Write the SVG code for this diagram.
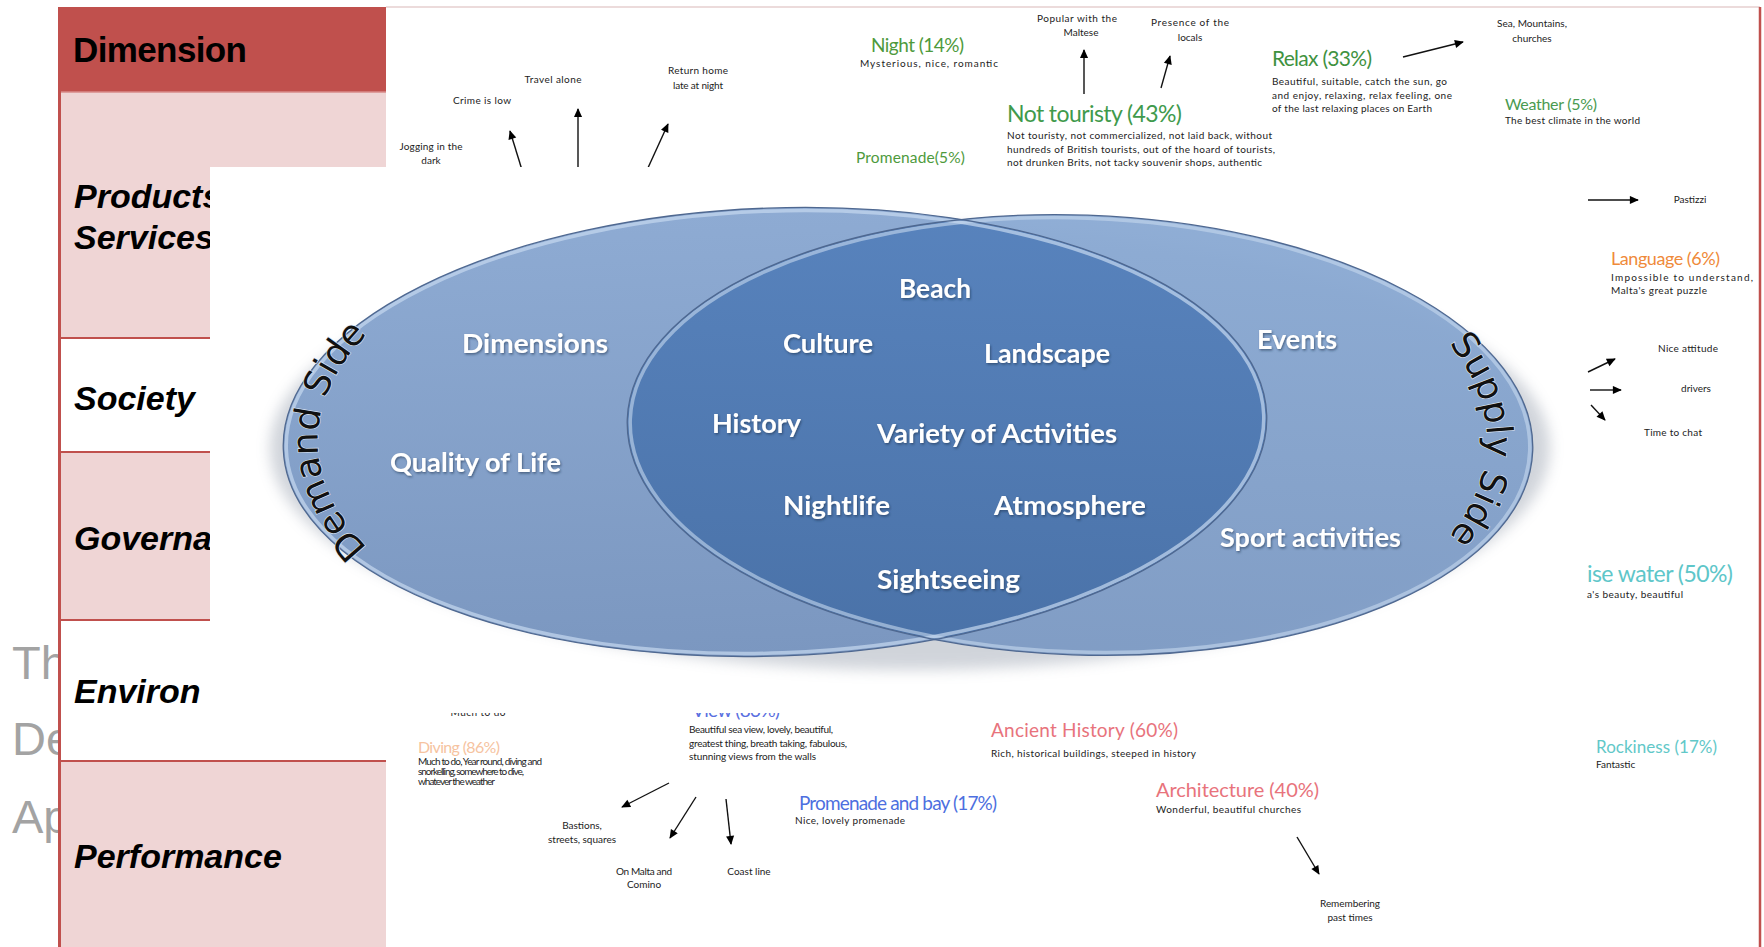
<svg xmlns="http://www.w3.org/2000/svg" width="1764" height="947" viewBox="0 0 1764 947">
<style>
.s{font-family:Lato,"Liberation Sans",sans-serif;font-size:10px;fill:#222}
.c{text-anchor:middle}
.t{font-family:Lato,"Liberation Sans",sans-serif;font-weight:400}
.v{font-family:Lato,"Liberation Sans",sans-serif;font-weight:700;font-size:26px;fill:#fff}
.row{font-family:"Liberation Sans",Arial,sans-serif;font-weight:700;font-style:italic;font-size:34px;fill:#000}
.gray{font-family:"Liberation Sans",Arial,sans-serif;font-size:47px;fill:#a3a3a3}
.arr{stroke:#111;stroke-width:1.4;fill:none;marker-end:url(#ah)}
.side{font-family:"DejaVu Sans","Liberation Sans",sans-serif;font-size:36px;fill:#111;stroke:#dfe9f6;stroke-width:1.2;paint-order:stroke}
</style>
<defs>
<marker id="ah" viewBox="0 0 10 10" refX="9" refY="5" markerWidth="10" markerHeight="9" markerUnits="userSpaceOnUse" orient="auto"><path d="M0,0.5 L10,5 L0,9.5 z" fill="#000"/></marker>
<linearGradient id="gL" x1="0" y1="0" x2="0" y2="1"><stop offset="0" stop-color="#8eabd3"/><stop offset="1" stop-color="#7b97c0"/></linearGradient>
<linearGradient id="gR" x1="0" y1="0" x2="0" y2="1"><stop offset="0" stop-color="#8cabd4"/><stop offset="1" stop-color="#7e9bc4"/></linearGradient>
<linearGradient id="gM" x1="0" y1="0" x2="0" y2="1"><stop offset="0" stop-color="#5883bd"/><stop offset="1" stop-color="#4a72a8"/></linearGradient>
<clipPath id="cE1"><ellipse cx="775" cy="432" rx="492" ry="224" transform="rotate(-2 775 432)"/></clipPath>
<filter id="sh" x="-10%" y="-10%" width="120%" height="130%"><feGaussianBlur stdDeviation="7"/></filter>
<filter id="ts" x="-5%" y="-20%" width="110%" height="140%"><feDropShadow dx="1" dy="1.5" stdDeviation="1" flood-color="#1d3050" flood-opacity="0.6"/></filter>
<path id="pDemand" d="M450.8,607.3 A458,236 0 0 1 450.8,274.7" fill="none"/>
<path id="pSupply" d="M1366.3,277.4 A412,230 0 0 1 1366.3,602.6" fill="none"/>
</defs>
<rect x="0" y="0" width="1764" height="947" fill="#fff"/>

<g id="bg-title">
<text class="gray" x="12" y="679">Th</text>
<text class="gray" x="12" y="755">De</text>
<text class="gray" x="12" y="833">Ap</text>
</g>

<g id="frame">
<line x1="386" y1="7" x2="1760" y2="7" stroke="#e6cfcf" stroke-width="1.5"/>
<line x1="1760" y1="7" x2="1760" y2="947" stroke="#c0504d" stroke-width="2.5"/>
</g>

<g id="connectors">
<line class="arr" x1="522" y1="170" x2="510" y2="131"/>
<line class="arr" x1="578" y1="170" x2="578" y2="109"/>
<line class="arr" x1="647" y1="170" x2="668" y2="124"/>
<line class="arr" x1="1084" y1="94" x2="1084" y2="50"/>
<line class="arr" x1="1161" y1="88" x2="1170" y2="56"/>
<line class="arr" x1="1403" y1="57" x2="1463" y2="42"/>
<line class="arr" x1="1588" y1="200" x2="1638" y2="200"/>
<line class="arr" x1="1588" y1="372" x2="1615" y2="359"/>
<line class="arr" x1="1590" y1="390" x2="1621" y2="390"/>
<line class="arr" x1="1591" y1="405" x2="1605" y2="420"/>
<line class="arr" x1="669" y1="783" x2="622" y2="807"/>
<line class="arr" x1="696" y1="797" x2="670" y2="838"/>
<line class="arr" x1="726" y1="799" x2="731" y2="844"/>
<line class="arr" x1="1297" y1="837" x2="1319" y2="874"/>
</g>

<g id="n-crime"><text class="s c" x="482" y="104" textLength="58">Crime is low</text></g>
<g id="n-travel"><text class="s c" x="553" y="83" textLength="57">Travel alone</text></g>
<g id="n-return"><text class="s c" x="698" y="74" textLength="60">Return home</text><text class="s c" x="698" y="89" textLength="50">late at night</text></g>
<g id="n-jogging"><text class="s c" x="431" y="150" textLength="63">Jogging in the</text><text class="s c" x="431" y="164">dark</text></g>

<g id="n-night"><text class="t" x="871" y="52" font-size="19" fill="#4e9a3c" textLength="93">Night (14%)</text><text class="s" x="860" y="67" textLength="138">Mysterious, nice, romantic</text></g>
<g id="n-promenade5"><text class="t" x="856" y="163" font-size="15.5" fill="#4e9a3c" textLength="109">Promenade(5%)</text></g>
<g id="n-popular"><text class="s c" x="1077" y="22" textLength="80">Popular with the</text><text class="s c" x="1081" y="36">Maltese</text></g>
<g id="n-presence"><text class="s c" x="1190" y="26" textLength="78">Presence of the</text><text class="s c" x="1190" y="41">locals</text></g>
<g id="n-nottouristy"><text class="t" x="1007" y="122" font-size="23" fill="#3f9a4c" textLength="175">Not touristy (43%)</text>
<text class="s" x="1007" y="139" textLength="265">Not touristy, not commercialized, not laid back, without</text>
<text class="s" x="1007" y="153" textLength="268">hundreds of British tourists, out of the hoard of tourists,</text>
<text class="s" x="1007" y="166" textLength="255">not drunken Brits, not tacky souvenir shops, authentic</text></g>
<g id="n-relax"><text class="t" x="1272" y="66" font-size="21" fill="#3f923f" textLength="100">Relax (33%)</text>
<text class="s" x="1272" y="85" textLength="175">Beautiful, suitable, catch the sun, go</text>
<text class="s" x="1272" y="99" textLength="180">and enjoy, relaxing, relax feeling, one</text>
<text class="s" x="1272" y="112" textLength="160">of the last relaxing places on Earth</text></g>
<g id="n-sea"><text class="s c" x="1532" y="27" textLength="70">Sea, Mountains,</text><text class="s c" x="1532" y="42">churches</text></g>
<g id="n-weather"><text class="t" x="1505" y="110" font-size="16" fill="#4a9a50" textLength="92">Weather (5%)</text><text class="s" x="1505" y="124" textLength="135">The best climate in the world</text></g>

<g id="n-pastizzi"><text class="s c" x="1690" y="203">Pastizzi</text></g>
<g id="n-language"><text class="t" x="1611" y="265" font-size="18" fill="#ef8a3a" textLength="109">Language (6%)</text>
<text class="s" x="1611" y="281" textLength="142">Impossible to understand,</text>
<text class="s" x="1611" y="294" textLength="96">Malta's great puzzle</text></g>
<g id="n-nice"><text class="s c" x="1688" y="352" textLength="60">Nice attitude</text></g>
<g id="n-drivers"><text class="s c" x="1696" y="392">drivers</text></g>
<g id="n-chat"><text class="s c" x="1673" y="436" textLength="58">Time to chat</text></g>
<g id="n-water"><text class="t" x="1587" y="582" font-size="23" fill="#5ec6c9" textLength="146">ise water (50%)</text><text class="s" x="1587" y="598" textLength="96">a's beauty, beautiful</text></g>
<g id="n-rockiness"><text class="t" x="1596" y="753" font-size="17" fill="#62c8c8" textLength="121">Rockiness (17%)</text><text class="s" x="1596" y="768">Fantastic</text></g>

<g id="n-much"><text class="s c" x="478" y="716" textLength="55">Much to do</text></g>
<g id="n-diving"><text class="t" x="418" y="753" font-size="16" fill="#f6c3a0" textLength="82">Diving (86%)</text>
<text class="s" x="418" y="765" font-size="7.5" textLength="124">Much to do, Year round, diving and</text>
<text class="s" x="418" y="775" font-size="7.5" textLength="106">snorkelling, somewhere to dive,</text>
<text class="s" x="418" y="785" font-size="7.5" textLength="77">whatever the weather</text></g>
<g id="n-view"><text class="t" x="692" y="717" font-size="19" fill="#5a6fe0" textLength="88">View (83%)</text>
<text class="s" x="689" y="733" textLength="144">Beautiful sea view, lovely, beautiful,</text>
<text class="s" x="689" y="747" textLength="158">greatest thing, breath taking, fabulous,</text>
<text class="s" x="689" y="760" textLength="127">stunning views from the walls</text></g>
<g id="n-bastions"><text class="s c" x="582" y="829">Bastions,</text><text class="s c" x="582" y="843" textLength="68">streets, squares</text></g>
<g id="n-malta"><text class="s c" x="644" y="875" textLength="56">On Malta and</text><text class="s c" x="644" y="888">Comino</text></g>
<g id="n-coast"><text class="s c" x="749" y="875">Coast line</text></g>
<g id="n-promenadebay"><text class="t" x="799" y="810" font-size="19" fill="#4d6fe0" textLength="198">Promenade and bay (17%)</text><text class="s" x="795" y="824" textLength="110">Nice, lovely promenade</text></g>
<g id="n-ancient"><text class="t" x="991" y="737" font-size="19" fill="#e8737c" textLength="187">Ancient History (60%)</text><text class="s" x="991" y="757" textLength="205">Rich, historical buildings, steeped in history</text></g>
<g id="n-architecture"><text class="t" x="1156" y="797" font-size="20" fill="#e8737c" textLength="163">Architecture (40%)</text><text class="s" x="1156" y="813" textLength="145">Wonderful, beautiful churches</text></g>
<g id="n-remember"><text class="s c" x="1350" y="907" textLength="60">Remembering</text><text class="s c" x="1350" y="921">past times</text></g>

<g id="table">
<rect x="59" y="7" width="327" height="85" fill="#c0504d"/>
<rect x="59" y="92" width="327" height="246" fill="#efd5d5"/>
<rect x="59" y="338" width="327" height="114" fill="#fff"/>
<rect x="59" y="452" width="327" height="168" fill="#efd5d5"/>
<rect x="59" y="620" width="327" height="141" fill="#fff"/>
<rect x="59" y="761" width="327" height="186" fill="#efd5d5"/>
<line x1="59" y1="92" x2="386" y2="92" stroke="#d98a88" stroke-width="1.5"/>
<g stroke="#c0504d" stroke-width="2">
<line x1="59" y1="338" x2="386" y2="338"/>
<line x1="59" y1="452" x2="386" y2="452"/>
<line x1="59" y1="620" x2="386" y2="620"/>
<line x1="59" y1="761" x2="386" y2="761"/>
</g>
<line x1="59.5" y1="7" x2="59.5" y2="947" stroke="#c0504d" stroke-width="3"/>
<g id="r-dimension"><text x="73" y="62" font-family="'Liberation Sans',Arial,sans-serif" font-weight="700" font-size="35" fill="#000" textLength="174">Dimension</text></g>
<g id="r-products"><text class="row" x="74" y="208">Products</text><text class="row" x="74" y="249">Services</text></g>
<g id="r-society"><text class="row" x="74" y="410">Society</text></g>
<g id="r-governance"><text class="row" x="74" y="550">Governa</text></g>
<g id="r-environment"><text class="row" x="74" y="703">Environ</text></g>
<g id="r-performance"><text class="row" x="74" y="868">Performance</text></g>
</g>

<rect id="overlay" x="210" y="167" width="1376" height="546" fill="#fff"/>

<g id="venn">
<ellipse cx="910" cy="448" rx="640" ry="222" fill="#7a8597" opacity="0.35" filter="url(#sh)"/>
<g id="e-demand">
<ellipse cx="775" cy="432" rx="492" ry="224" transform="rotate(-2 775 432)" fill="url(#gL)"/>
</g>
<g id="e-supply">
<ellipse cx="1080" cy="435" rx="453" ry="220" transform="rotate(2 1080 435)" fill="url(#gR)" fill-opacity="0.97"/>
</g>
<g id="e-overlap" clip-path="url(#cE1)">
<ellipse cx="1080" cy="435" rx="453" ry="220" transform="rotate(2 1080 435)" fill="url(#gM)"/>
</g>
<g fill="none">
<ellipse cx="775" cy="432" rx="489" ry="221" transform="rotate(-2 775 432)" stroke="#c6d8ef" stroke-opacity="0.7" stroke-width="3.5"/>
<ellipse cx="1080" cy="435" rx="450" ry="217" transform="rotate(2 1080 435)" stroke="#c6d8ef" stroke-opacity="0.6" stroke-width="3.5"/>
<ellipse cx="775" cy="432" rx="492" ry="224" transform="rotate(-2 775 432)" stroke="#4f6890" stroke-width="1.3"/>
<ellipse cx="1080" cy="435" rx="453" ry="220" transform="rotate(2 1080 435)" stroke="#4f6890" stroke-width="1.3"/>
</g>
<g id="l-demandside"><text class="side"><textPath href="#pDemand" startOffset="50%" text-anchor="middle">Demand Side</textPath></text></g>
<g id="l-supplyside"><text class="side"><textPath href="#pSupply" startOffset="50%" text-anchor="middle">Supply Side</textPath></text></g>
<g filter="url(#ts)">
<g id="v-beach"><text class="v" x="899" y="298" textLength="72" lengthAdjust="spacingAndGlyphs">Beach</text></g>
<g id="v-dimensions"><text class="v" x="462" y="353" textLength="146" lengthAdjust="spacingAndGlyphs">Dimensions</text></g>
<g id="v-culture"><text class="v" x="783" y="353" textLength="90" lengthAdjust="spacingAndGlyphs">Culture</text></g>
<g id="v-landscape"><text class="v" x="984" y="363" textLength="126" lengthAdjust="spacingAndGlyphs">Landscape</text></g>
<g id="v-events"><text class="v" x="1257" y="349" textLength="80" lengthAdjust="spacingAndGlyphs">Events</text></g>
<g id="v-history"><text class="v" x="712" y="433" textLength="89" lengthAdjust="spacingAndGlyphs">History</text></g>
<g id="v-variety"><text class="v" x="877" y="443" textLength="240" lengthAdjust="spacingAndGlyphs">Variety of Activities</text></g>
<g id="v-quality"><text class="v" x="390" y="472" textLength="171" lengthAdjust="spacingAndGlyphs">Quality of Life</text></g>
<g id="v-nightlife"><text class="v" x="783" y="515" textLength="107" lengthAdjust="spacingAndGlyphs">Nightlife</text></g>
<g id="v-atmosphere"><text class="v" x="994" y="515" textLength="152" lengthAdjust="spacingAndGlyphs">Atmosphere</text></g>
<g id="v-sport"><text class="v" x="1220" y="547" textLength="181" lengthAdjust="spacingAndGlyphs">Sport activities</text></g>
<g id="v-sightseeing"><text class="v" x="877" y="589" textLength="143" lengthAdjust="spacingAndGlyphs">Sightseeing</text></g>
</g>
</g>
</svg>
